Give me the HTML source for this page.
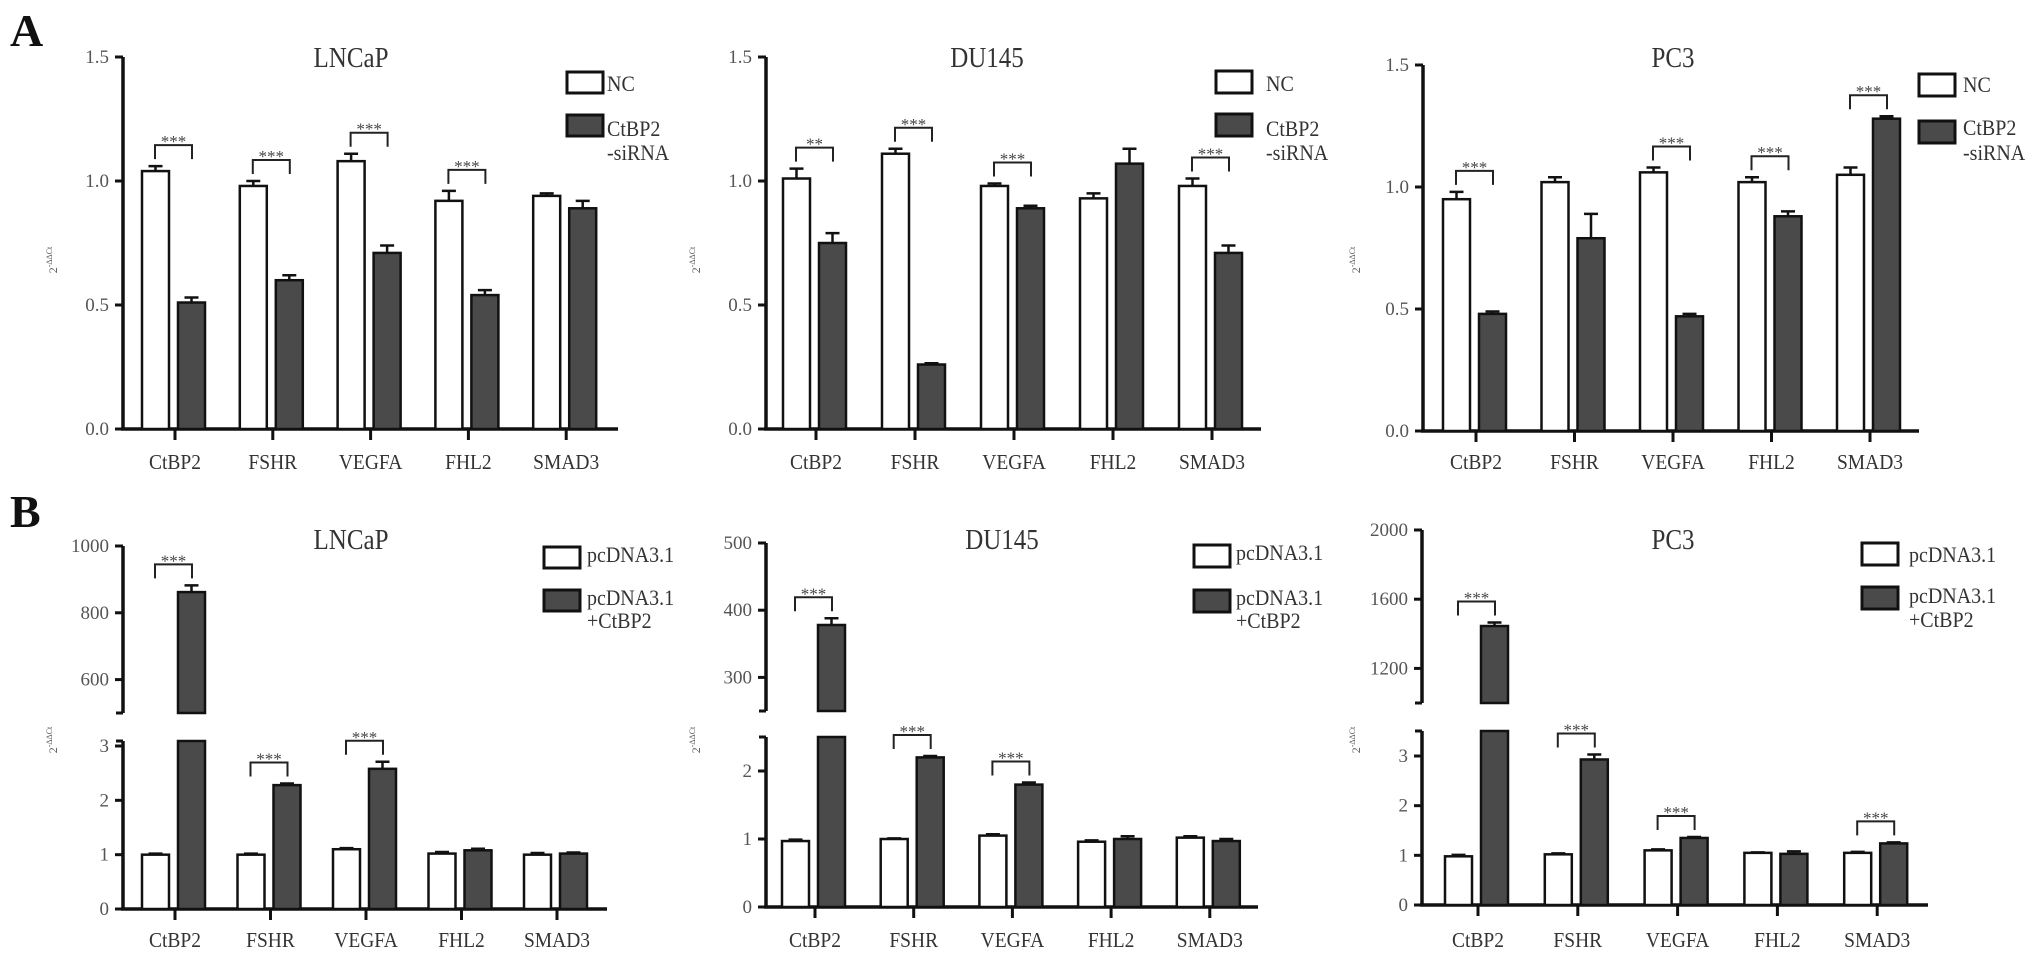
<!DOCTYPE html>
<html><head><meta charset="utf-8"><style>
html,body{margin:0;padding:0;background:#fff;overflow:hidden;}
svg{display:block;font-family:"Liberation Serif",serif;}
</style></head><body>
<svg id="fig" width="2031" height="957" viewBox="0 0 2031 957" xmlns="http://www.w3.org/2000/svg">
<text x="10" y="46" font-size="46" font-weight="bold" fill="#111">A</text>
<text x="10" y="527" font-size="46" font-weight="bold" fill="#111">B</text>
</svg>
<script>
const categories = ["CtBP2","FSHR","VEGFA","FHL2","SMAD3"];
// Panel A (NC vs CtBP2-siRNA)
const aLNCaP_nc = [1.04,0.98,1.08,0.92,0.94];
const aLNCaP_ncErr = [0.02,0.02,0.03,0.04,0.01];
const aLNCaP_si = [0.51,0.60,0.71,0.54,0.89];
const aLNCaP_siErr = [0.02,0.02,0.03,0.02,0.03];
const aLNCaP_sig = ["***","***","***","***",""];
const aDU_nc = [1.01,1.11,0.98,0.93,0.98];
const aDU_ncErr = [0.04,0.02,0.01,0.02,0.03];
const aDU_si = [0.75,0.26,0.89,1.07,0.71];
const aDU_siErr = [0.04,0.005,0.01,0.06,0.03];
const aDU_sig = ["**","***","***","","***"];
const aPC3_nc = [0.95,1.02,1.06,1.02,1.05];
const aPC3_ncErr = [0.03,0.02,0.02,0.02,0.03];
const aPC3_si = [0.48,0.79,0.47,0.88,1.28];
const aPC3_siErr = [0.01,0.10,0.01,0.02,0.01];
const aPC3_sig = ["***","","***","***","***"];
const aTicks = [0,0.5,1.0,1.5];
const aTickLabels = ["0.0","0.5","1.0","1.5"];
// Panel B (pcDNA3.1 vs pcDNA3.1+CtBP2)
const bLNCaP_pc = [1.0,1.0,1.1,1.02,1.0];
const bLNCaP_pcErr = [0.02,0.02,0.02,0.03,0.03];
const bLNCaP_ct = [862,2.28,2.58,1.08,1.02];
const bLNCaP_ctErr = [20,0.03,0.13,0.03,0.02];
const bLNCaP_sig = ["***","***","***","",""];
const bLNCaP_lowTicks = [0,1,2,3];
const bLNCaP_upTicks = [600,800,1000];
const bDU_pc = [0.97,1.0,1.05,0.96,1.02];
const bDU_pcErr = [0.02,0.01,0.02,0.02,0.02];
const bDU_ct = [378,2.2,1.8,1.0,0.97];
const bDU_ctErr = [10,0.02,0.03,0.04,0.03];
const bDU_sig = ["***","***","***","",""];
const bDU_lowTicks = [0,1,2];
const bDU_upTicks = [300,400,500];
const bPC3_pc = [0.98,1.02,1.1,1.05,1.05];
const bPC3_pcErr = [0.03,0.02,0.02,0.01,0.02];
const bPC3_ct = [1445,2.93,1.35,1.03,1.24];
const bPC3_ctErr = [20,0.1,0.02,0.05,0.02];
const bPC3_sig = ["***","***","***","","***"];
const bPC3_lowTicks = [0,1,2,3];
const bPC3_upTicks = [1200,1600,2000];

const svg = document.getElementById('fig');
const NS = 'http://www.w3.org/2000/svg';
function mk(tag, attrs, parent){
  const e = document.createElementNS(NS, tag);
  for (const k in attrs) e.setAttribute(k, attrs[k]);
  (parent||svg).appendChild(e);
  return e;
}
function txt(parent, x, y, size, anchor, fill, content, sy){
  const e = mk('text', {x:0, y:0, 'font-size':size, 'text-anchor':anchor, fill:fill,
    transform:`translate(${x},${y}) scale(1,${sy||1})`}, parent);
  e.textContent = content;
  return e;
}
const DARK = '#4a4a4a';

function drawPanel(cfg){
  const g = mk('g', {});
  
  
  const xc = i => cfg.ax + cfg.off + i*cfg.sp;
  const yS = cfg.yScale;
  const t = txt(g, cfg.titleX, cfg.titleY, 25, 'middle', '#333', cfg.title, 1.15);
  
  
  const yl = mk('text', {x:0, y:0, 'font-size': 12, 'text-anchor':'middle', fill:'#555', transform:`translate(${cfg.ylX},${cfg.ylY}) rotate(-90)`}, g);
  yl.innerHTML = '2<tspan font-size="8" dy="-5">-ΔΔCt</tspan>';
  
  
  cfg.axisSegs.forEach(s => {
    const l = mk('line', {x1:cfg.ax, x2:cfg.ax, y1:s[0], y2:s[1], stroke:'#111', 'stroke-width':3.5}, g);
    
    
    mk('line', {x1:cfg.ax-7, x2:cfg.ax, y1:s[0], y2:s[0], stroke:'#111', 'stroke-width':3}, g);
    mk('line', {x1:cfg.ax-7, x2:cfg.ax, y1:s[1], y2:s[1], stroke:'#111', 'stroke-width':3}, g);
  });
  const xa = mk('line', {x1:cfg.ax-2, x2:cfg.xEnd, y1:yS(0), y2:yS(0), stroke:'#111', 'stroke-width':3.5}, g);
  
  
  cfg.ticks.forEach((v, i) => {
    const y = yS(v);
    mk('line', {x1:cfg.ax-8, x2:cfg.ax, y1:y, y2:y, stroke:'#111', 'stroke-width':3}, g);
    const tl = txt(g, cfg.ax-14, y+6, 19, 'end', '#555', cfg.tickLabels[i], 1.0);
    
    
  });
  const y0 = yS(0);
  categories.forEach((c, i) => {
    const cx = xc(i);
    mk('line', {x1:cx, x2:cx, y1:y0, y2:y0+11, stroke:'#111', 'stroke-width':3}, g);
    const cl = txt(g, cx, cfg.catY, 19.5, 'middle', '#333', c, 1.1);
    
    
    const series = [[cfg.s1[i], cfg.e1[i], cx-33, '#fff'], [cfg.s2[i], cfg.e2[i], cx+3, DARK]];
    const tops = [];
    series.forEach((s, k) => {
      const [v, e, x, fill] = s;
      const w = 27;
      let parts;
      if (cfg.split && v > cfg.lowMax) {
        parts = [[cfg.yLowTop, y0], [yS(v), cfg.yUpBottom]];
      } else parts = [[yS(v), y0]];
      parts.forEach(p => {
        const r = mk('rect', {x:x, y:p[0], width:w, height:p[1]-p[0], fill:fill, stroke:'#111', 'stroke-width':2.5}, g);
        
        
      });
      const yt = yS(v + e);
      const eb = mk('path', {d:`M${x+w/2},${yS(v)} V${yt} M${x+w/2-7},${yt} H${x+w/2+7}`, stroke:'#111', 'stroke-width':2.5, fill:'none'}, g);
      
      
      tops.push(yt);
    });
    if (cfg.sig[i]) {
      const by = Math.min(tops[0], tops[1]) - 21;
      const xl = cx-20, xr = cx+17;
      const br = mk('path', {d:`M${xl},${by+14} V${by} H${xr} V${by+14}`, stroke:'#222', 'stroke-width':2, fill:'none'}, g);
      
      
      const st = txt(g, (xl+xr)/2, by+2, 17, 'middle', '#444', cfg.sig[i], 1.0);
      
      
    }
  });
  const L = cfg.leg;
  const b1 = mk('rect', {x:L.x, y:L.y1, width:36, height:L.h, fill:'#fff', stroke:'#111', 'stroke-width':3}, g);
  
  
  const b2 = mk('rect', {x:L.x, y:L.y2, width:36, height:L.h, fill:DARK, stroke:'#111', 'stroke-width':3}, g);
  
  
  L.texts.forEach(tt => {
    const e = txt(g, L.tx, tt[1], 20, 'start', '#333', tt[0], 1.1);
    
    
  });
}

function linScale(y0, yTop, vTop){ return v => y0 - v*(y0-yTop)/vTop; }
function splitScale(y0, lowRefV, lowRefY, upMin, upMinY, upMax, upMaxY, lowMax){
  return v => v <= lowMax ? y0 - v*(y0-lowRefY)/lowRefV
    : upMinY - (v-upMin)*(upMinY-upMaxY)/(upMax-upMin);
}

// Panel A
drawPanel({name:'chart-a-lncap', title:'LNCaP', titleX:351, titleY:67, ax:123, off:52, sp:97.8, xEnd:618,
  yScale:linScale(429,57,1.5), axisSegs:[[57,429]], ticks:aTicks, tickLabels:aTickLabels, catY:469,
  s1:aLNCaP_nc, e1:aLNCaP_ncErr, s2:aLNCaP_si, e2:aLNCaP_siErr, sig:aLNCaP_sig, ylX:57, ylY:260,
  leg:{x:567, y1:72, y2:115, h:21, tx:607, texts:[['NC',91],['CtBP2',136],['-siRNA',160]]}});
drawPanel({name:'chart-a-du145', title:'DU145', titleX:987, titleY:67, ax:766, off:50, sp:99, xEnd:1261,
  yScale:linScale(429,57,1.5), axisSegs:[[57,429]], ticks:aTicks, tickLabels:aTickLabels, catY:469,
  s1:aDU_nc, e1:aDU_ncErr, s2:aDU_si, e2:aDU_siErr, sig:aDU_sig, ylX:700, ylY:260,
  leg:{x:1216, y1:71, y2:114, h:22, tx:1266, texts:[['NC',91],['CtBP2',136],['-siRNA',160]]}});
drawPanel({name:'chart-a-pc3', title:'PC3', titleX:1673, titleY:67, ax:1423, off:53, sp:98.5, xEnd:1919,
  yScale:linScale(431,65,1.5), axisSegs:[[65,431]], ticks:aTicks, tickLabels:aTickLabels, catY:469,
  s1:aPC3_nc, e1:aPC3_ncErr, s2:aPC3_si, e2:aPC3_siErr, sig:aPC3_sig, ylX:1360, ylY:260,
  leg:{x:1919, y1:74, y2:121, h:22, tx:1963, texts:[['NC',92],['CtBP2',135],['-siRNA',160]]}});

// Panel B
drawPanel({name:'chart-b-lncap', title:'LNCaP', titleX:351, titleY:549, ax:123, off:52, sp:95.5, xEnd:607,
  yScale:splitScale(909,3,746,500,713,1000,546,3.09), split:true, lowMax:3.09, yLowTop:741, yUpBottom:713,
  axisSegs:[[546,713],[741,909]], ticks:bLNCaP_lowTicks.concat(bLNCaP_upTicks),
  tickLabels:bLNCaP_lowTicks.concat(bLNCaP_upTicks).map(String), catY:947,
  s1:bLNCaP_pc, e1:bLNCaP_pcErr, s2:bLNCaP_ct, e2:bLNCaP_ctErr, sig:bLNCaP_sig, ylX:57, ylY:740,
  leg:{x:544, y1:547, y2:590, h:21, tx:587, texts:[['pcDNA3.1',562],['pcDNA3.1',605],['+CtBP2',628]]}});
drawPanel({name:'chart-b-du145', title:'DU145', titleX:1002, titleY:549, ax:766, off:49, sp:98.7, xEnd:1258,
  yScale:splitScale(907,2,771,250,711,500,543,2.5), split:true, lowMax:2.5, yLowTop:737, yUpBottom:711,
  axisSegs:[[543,711],[737,907]], ticks:bDU_lowTicks.concat(bDU_upTicks),
  tickLabels:bDU_lowTicks.concat(bDU_upTicks).map(String), catY:947,
  s1:bDU_pc, e1:bDU_pcErr, s2:bDU_ct, e2:bDU_ctErr, sig:bDU_sig, ylX:700, ylY:740,
  leg:{x:1194, y1:545, y2:590, h:22, tx:1236, texts:[['pcDNA3.1',560],['pcDNA3.1',605],['+CtBP2',628]]}});
drawPanel({name:'chart-b-pc3', title:'PC3', titleX:1673, titleY:549, ax:1422, off:56, sp:99.8, xEnd:1928,
  yScale:splitScale(905,3,756,1000,703,2000,530,3.5), split:true, lowMax:3.5, yLowTop:731, yUpBottom:703,
  axisSegs:[[530,703],[731,905]], ticks:bPC3_lowTicks.concat(bPC3_upTicks),
  tickLabels:bPC3_lowTicks.concat(bPC3_upTicks).map(String), catY:947,
  s1:bPC3_pc, e1:bPC3_pcErr, s2:bPC3_ct, e2:bPC3_ctErr, sig:bPC3_sig, ylX:1360, ylY:740,
  leg:{x:1862, y1:543, y2:587, h:22, tx:1909, texts:[['pcDNA3.1',562],['pcDNA3.1',603],['+CtBP2',627]]}});
</script>
</body></html>
